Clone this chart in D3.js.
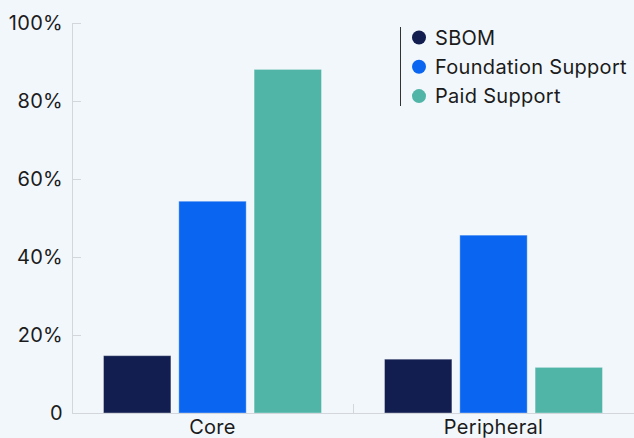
<!DOCTYPE html>
<html>
<head>
<meta charset="utf-8">
<script src="https://cdn.jsdelivr.net/npm/d3@7"></script>
<style>
  html, body { margin: 0; padding: 0; background: #f2f7fb; }
  svg { display: block; }
</style>
</head>
<body>
<div id="chart"></div>
<script>
// data
const categories = ["Core", "Peripheral"];
const seriesNames = ["SBOM", "Foundation Support", "Paid Support"];
const sbom = [14.7, 13.8];
const foundation = [54.3, 45.6];
const paid = [88.1, 11.7];
const yTicks = [0, 20, 40, 60, 80, 100];

const COLORS = ["#121e4f", "#0a66f0", "#50b4a7"];
const FONT = "Inter, 'Open Sans', sans-serif";
const TEXT_COLOR = "#1b1b1b";
const AXIS_COLOR = "#d3d7dc";
const W = 634, H = 438;
const margin = { top: 23, right: 0, bottom: 25, left: 72 };

const svg = d3.select("#chart").append("svg")
    .attr("width", W).attr("height", H);

const x0 = d3.scaleBand().domain(categories)
    .range([margin.left, W - margin.right]).padding(0);
const x1 = d3.scaleBand().domain(seriesNames)
    .range([31.5, x0.bandwidth() - 31.5]).paddingInner(0.105);
const y = d3.scaleLinear().domain([0, 100]).range([H - margin.bottom, margin.top]);

function styleText(sel) {
    sel.attr("font-family", FONT).attr("font-size", 20)
        .attr("letter-spacing", "0.3px").attr("fill", TEXT_COLOR);
}

// y axis
const yAxis = svg.append("g")
    .attr("transform", `translate(${margin.left},0)`)
    .call(d3.axisLeft(y).tickValues(yTicks).tickSize(-9).tickPadding(9)
        .tickFormat(d => d === 0 ? "0" : d + "%"));
yAxis.select(".domain").attr("stroke", AXIS_COLOR).attr("d", `M0.5,${y(100)}V${y(0)}`);
yAxis.selectAll(".tick line").attr("stroke", AXIS_COLOR);
yAxis.selectAll("text").call(styleText);

// bars
const rows = categories.map((c, i) => ({ cat: c, vals: [sbom[i], foundation[i], paid[i]] }));
const groups = svg.selectAll("g.grp").data(rows).enter().append("g")
    .attr("class", "grp")
    .attr("transform", d => `translate(${x0(d.cat)},0)`);
groups.selectAll("rect")
    .data(d => d.vals.map((v, j) => ({ name: seriesNames[j], v: v, j: j })))
    .enter().append("rect")
    .attr("x", d => x1(d.name))
    .attr("width", x1.bandwidth())
    .attr("y", d => y(d.v))
    .attr("height", d => y(0) - y(d.v))
    .attr("fill", d => COLORS[d.j])
    .attr("stroke", "rgba(255,255,255,0.35)")
    .attr("stroke-width", 1);

// x axis
const xAxis = svg.append("g")
    .attr("transform", `translate(0,${y(0)})`)
    .call(d3.axisBottom(x0).tickSize(0).tickPadding(7));
xAxis.select(".domain").attr("stroke", AXIS_COLOR);
xAxis.selectAll("text").call(styleText);
// separator ticks between bands
svg.append("g").selectAll("line")
    .data(categories.slice(1))
    .enter().append("line")
    .attr("x1", d => x0(d) + 0.5).attr("x2", d => x0(d) + 0.5)
    .attr("y1", y(0) - 9).attr("y2", y(0))
    .attr("stroke", AXIS_COLOR);

// legend
const legend = svg.append("g").attr("transform", "translate(400,0)");
legend.append("line")
    .attr("x1", 0.5).attr("x2", 0.5).attr("y1", 27).attr("y2", 106)
    .attr("stroke", "#333").attr("stroke-width", 1);
const items = legend.selectAll("g.item").data(seriesNames).enter().append("g")
    .attr("class", "item")
    .attr("transform", (d, i) => `translate(0,${37.5 + i * 29.3})`);
items.append("circle").attr("cx", 19).attr("cy", 0).attr("r", 7)
    .attr("fill", (d, i) => COLORS[i]);
items.append("text").attr("x", 35).attr("dy", "0.36em")
    .call(styleText)
    .text(d => d);
</script>
</body>
</html>
